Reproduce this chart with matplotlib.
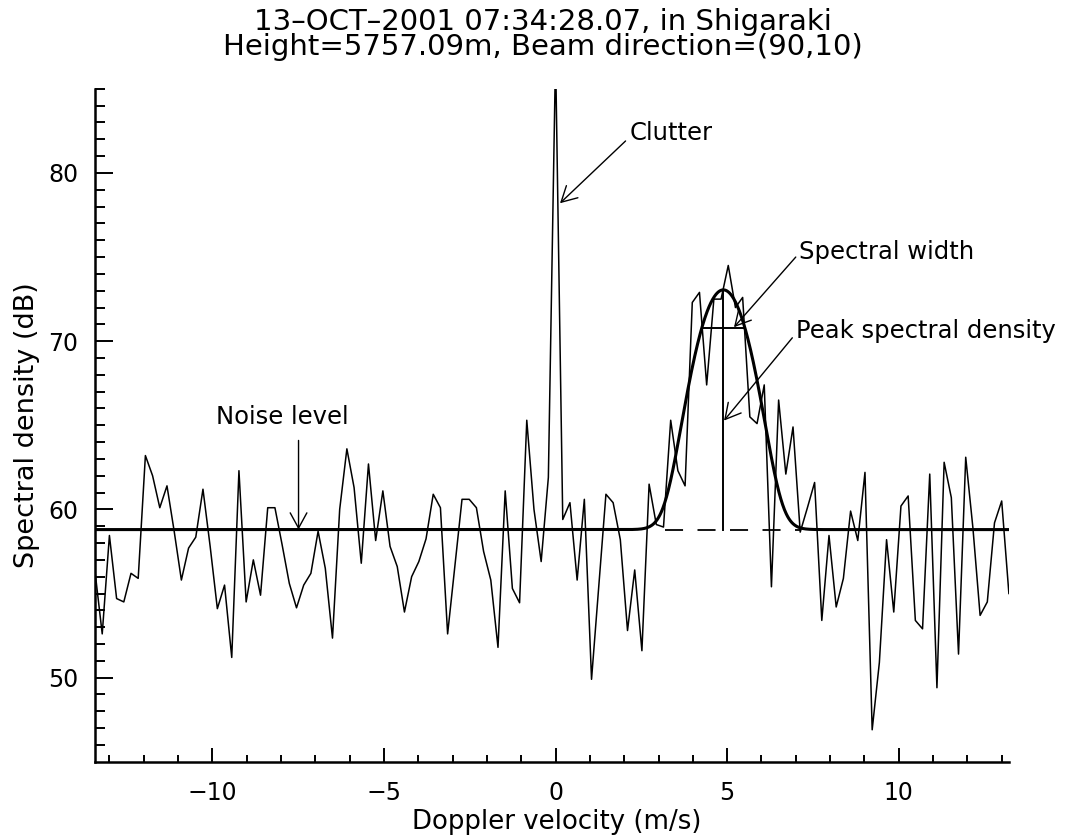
import numpy as np
import matplotlib
matplotlib.use("Agg")
import matplotlib.pyplot as plt

# ---------------------------------------------------------------------------
# Data (128 Doppler bins, dB)
# ---------------------------------------------------------------------------
n_bins = 128
dv = 0.2097                       # velocity resolution (m/s)
velocity = (np.arange(n_bins) - n_bins // 2) * dv

spectrum_db = [
    56.3, 52.6, 58.45, 54.7, 54.5, 56.2, 55.9, 63.2, 62.0, 60.1,
    61.4, 58.7, 55.8, 57.7, 58.35, 61.2, 57.8, 54.1, 55.5, 51.2,
    62.3, 54.5, 57.0, 54.9, 60.1, 60.1, 57.9, 55.6, 54.15, 55.5,
    56.2, 58.7, 56.5, 52.35, 60.0, 63.6, 61.3, 56.8, 62.7, 58.15,
    61.1, 57.8, 56.6, 53.9, 56.0, 56.9, 58.25, 60.9, 60.1, 52.6,
    56.6, 60.6, 60.6, 60.1, 57.5, 55.8, 51.8, 61.1, 55.3, 54.45,
    65.3, 60.0, 56.9, 61.9, 87.0, 59.4, 60.4, 55.8, 60.6, 49.9,
    55.4, 60.9, 60.4, 58.2, 52.8, 56.4, 51.6, 61.5, 59.1, 58.95,
    65.3, 62.3, 61.4, 72.3, 72.9, 67.4, 72.5, 72.5, 74.5, 72.0,
    72.6, 65.5, 65.1, 67.4, 55.4, 66.5, 62.1, 64.9, 58.65, 60.1,
    61.6, 53.4, 58.45, 54.2, 55.9, 59.9, 58.15, 62.2, 46.9, 50.9,
    58.2, 53.9, 60.2, 60.8, 53.4, 52.9, 62.1, 49.4, 62.8, 60.7,
    51.4, 63.1, 58.9, 53.7, 54.5, 59.2, 60.5, 55.0,
]

# Gaussian fit parameters
noise_db = 58.8
peak_db = 73.05
doppler_shift = 4.89
sigma = 0.60
width_level_db = 70.77
width_half = 0.63
dash_range = [3.2, 7.15]

title_lines = ["13\u2013OCT\u20132001 07:34:28.07, in Shigaraki",
               "Height=5757.09m, Beam direction=(90,10)"]

# ---------------------------------------------------------------------------
plt.rcParams["font.family"] = ["DejaVu Sans"]

fig = plt.figure(figsize=(10.86, 8.38), dpi=100)
ax = fig.add_axes([0.0875, 0.091, 0.8415, 0.803])

ax.plot(velocity, spectrum_db, color="black", lw=1.1)

# fitted curve: noise + Gaussian (linear power) shown in dB
fit_v = np.linspace(velocity[0], velocity[-1], 2000)
p_noise = 10 ** (noise_db / 10)
p_sig = 10 ** (peak_db / 10) - p_noise
fit_db = 10 * np.log10(p_noise + p_sig * np.exp(-(fit_v - doppler_shift) ** 2 / (2 * sigma ** 2)))
ax.plot(fit_v, fit_db, color="black", lw=2.2)

ax.plot(dash_range, [noise_db, noise_db], color="black", lw=1.3,
        dashes=(10, 8))
ax.plot([doppler_shift, doppler_shift], [noise_db, peak_db], color="black", lw=1.4)
ax.plot([doppler_shift - width_half, doppler_shift + width_half],
        [width_level_db, width_level_db], color="black", lw=1.4)

ax.set_xlim(velocity[0], velocity[-1])
ax.set_ylim(45, 85)
ax.set_xticks([-10, -5, 0, 5, 10])
ax.set_xticklabels(["\u221210", "\u22125", "0", "5", "10"])
ax.set_xticks(np.arange(-13, 14, 1), minor=True)
ax.set_yticks([50, 60, 70, 80])
ax.set_yticks(np.arange(46, 86, 1), minor=True)

for s in ["top", "right"]:
    ax.spines[s].set_visible(False)
for s in ["left", "bottom"]:
    ax.spines[s].set_linewidth(1.8)

ax.tick_params(axis="both", which="both", direction="in", labelsize=17, width=1.4)
ax.tick_params(axis="x", which="major", length=10, pad=14)
ax.tick_params(axis="x", which="minor", length=5)
ax.tick_params(axis="y", which="major", length=13, pad=12)
ax.tick_params(axis="y", which="minor", length=7.5)

ax.set_xlabel("Doppler velocity (m/s)", fontsize=18.7, labelpad=3)
ax.set_ylabel("Spectral density (dB)", fontsize=19.5, labelpad=6)
ax.xaxis.set_label_coords(0.505, -0.07)

fig.text(0.5, 0.99, "\n".join(title_lines), ha="center", va="top",
         fontsize=21, linespacing=0.85)

# annotations
arrow = dict(arrowstyle="->, head_length=0.55, head_width=0.3", lw=1.0,
             color="black", shrinkA=0, shrinkB=0, mutation_scale=20)
notes = [
    ("Clutter", (2.15, 82.4), (2.04, 81.9), (0.13, 78.2)),
    ("Spectral width", (7.1, 75.3), (7.0, 75.0), (5.2, 70.83)),
    ("Peak spectral density", (7.0, 70.63), (6.9, 70.2), (4.91, 65.28)),
]
for label, txt_xy, start, tip in notes:
    ax.annotate("", xy=tip, xytext=start, arrowprops=arrow)
    ax.text(txt_xy[0], txt_xy[1], label, fontsize=17.5, ha="left", va="center")

ax.annotate("", xy=(-7.49, noise_db), xytext=(-7.49, 64.1), arrowprops=arrow)
ax.text(-7.97, 65.5, "Noise level", fontsize=17.5, ha="center", va="center")

fig.savefig("out.png", dpi=100)
